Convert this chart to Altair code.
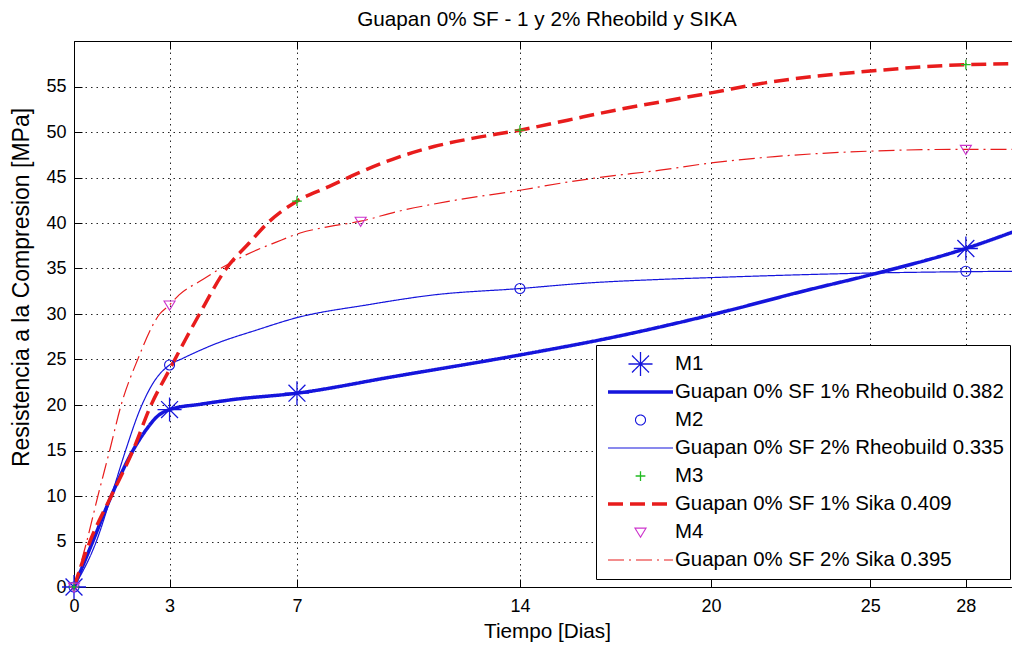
import altair as alt
import pandas as pd

TITLE = "Guapan 0% SF - 1 y 2% Rheobild y SIKA"
X_TITLE = "Tiempo [Dias]"
Y_TITLE = "Resistencia a la Compresion [MPa]"
X_TICKS = [0, 3, 7, 14, 20, 25, 28]
Y_TICKS = [0, 5, 10, 15, 20, 25, 30, 35, 40, 45, 50, 55]

ENTRIES = [
    "M1",
    "Guapan 0% SF 1% Rheobuild 0.382",
    "M2",
    "Guapan 0% SF 2% Rheobuild 0.335",
    "M3",
    "Guapan 0% SF 1% Sika 0.409",
    "M4",
    "Guapan 0% SF 2% Sika 0.395",
]

# measured points (markers)
M1_X = [0, 3, 7, 28]
M1_Y = [0, 19.5, 21.3, 37.2]
M2_X = [0, 3, 14, 28]
M2_Y = [0, 24.4, 32.8, 34.7]
M3_X = [0, 7, 14, 28]
M3_Y = [0, 42.4, 50.2, 57.4]
M4_X = [0, 3, 9, 28]
M4_Y = [0, 31.0, 40.2, 48.1]

# fitted curves
FIT1_X = [0, 0.59, 1.17, 1.85, 2.27, 2.6, 3.0, 4.0, 5.0, 7.0, 10.0, 14.0, 17.0, 20.0, 23.0, 25.0, 28.0, 29.7]
FIT1_Y = [0, 5.0, 10.0, 15.0, 17.3, 18.7, 19.5, 20.1, 20.6, 21.3, 23.1, 25.5, 27.5, 29.9, 32.6, 34.3, 37.2, 39.3]
FIT2_X = [0, 0.7, 1.17, 1.62, 2.06, 2.5, 3.0, 3.4, 4.5, 5.7, 7.0, 9.2, 11.3, 14.0, 16.1, 18.4, 20.0, 25.0, 28.0, 29.7]
FIT2_Y = [0, 5.0, 10.0, 15.0, 19.4, 22.5, 24.4, 25.1, 26.8, 28.2, 29.6, 31.0, 32.1, 32.8, 33.4, 33.8, 34.0, 34.5, 34.65, 34.7]
FIT3_X = [0, 0.5, 1.17, 1.85, 2.42, 3.0, 3.5, 3.94, 4.78, 5.5, 6.08, 7.0, 8.0, 9.0, 10.0, 11.3, 12.5, 14.0, 15.5, 17.0, 18.4, 20.0, 21.7, 25.0, 28.0, 29.7]
FIT3_Y = [0, 5.0, 10.0, 15.0, 20.0, 23.9, 27.2, 30.0, 35.0, 37.8, 40.0, 42.4, 44.0, 45.6, 47.0, 48.4, 49.3, 50.2, 51.3, 52.4, 53.3, 54.3, 55.4, 56.7, 57.4, 57.5]
FIT4_X = [0, 0.4, 0.75, 1.12, 1.48, 2.0, 2.69, 3.0, 3.3, 4.0, 4.6, 5.4, 6.35, 7.1, 8.0, 9.0, 10.2, 11.8, 14.0, 15.5, 16.5, 18.4, 20.0, 22.0, 25.0, 28.0, 29.7]
FIT4_Y = [0, 5.0, 10.0, 15.0, 20.0, 25.0, 30.0, 31.0, 32.1, 33.7, 35.0, 36.5, 37.9, 38.9, 39.6, 40.2, 41.3, 42.4, 43.6, 44.5, 45.0, 45.8, 46.6, 47.3, 47.9, 48.1, 48.1]

BLUE = "#1515dc"
RED = "#e81c1c"
GREEN = "#22bb22"
MAGENTA = "#cc33cc"

# symbol paths (unit coordinates; every symbol drawn at the same size)
ASTERISK = "M-0.37,0L0.37,0M0,-0.37L0,0.37M-0.26,-0.26L0.26,0.26M-0.26,0.26L0.26,-0.26"
CIRCLE = "M0.154,0A0.154,0.154 0 1,1 -0.154,0A0.154,0.154 0 1,1 0.154,0Z"
PLUS = "M-0.15,0L0.15,0M0,-0.15L0,0.15"
TRIDOWN = "M-0.17,-0.12L0.17,-0.12L0,0.16Z"
LINE = "M-1,0L1,0"

COLORS = [BLUE, BLUE, BLUE, BLUE, GREEN, RED, MAGENTA, RED]
SHAPES = [ASTERISK, LINE, CIRCLE, LINE, PLUS, LINE, TRIDOWN, LINE]
DASHES = [[1, 0], [1, 0], [1, 0], [1, 0], [1, 0], [15, 7], [1, 0], [16, 5, 2, 5]]
WIDTHS = [1.3, 3.5, 1.1, 1.2, 1.3, 3.5, 1.1, 1.2]

fits = [(ENTRIES[1], FIT1_X, FIT1_Y), (ENTRIES[3], FIT2_X, FIT2_Y),
        (ENTRIES[5], FIT3_X, FIT3_Y), (ENTRIES[7], FIT4_X, FIT4_Y)]
marks = [(ENTRIES[0], M1_X, M1_Y), (ENTRIES[2], M2_X, M2_Y),
         (ENTRIES[4], M3_X, M3_Y), (ENTRIES[6], M4_X, M4_Y)]

lines_df = pd.DataFrame(
    [{"entry": e, "x": x, "y": y} for e, xs, ys in fits for x, y in zip(xs, ys)]
)
points_df = pd.DataFrame(
    [{"entry": e, "x": x, "y": y} for e, xs, ys in marks for x, y in zip(xs, ys)]
)

FONT = "Liberation Sans"
W, H = 946, 546

x_scale = alt.Scale(domain=[0, 29.7], nice=False, zero=False)
y_scale = alt.Scale(domain=[0, 60], nice=False, zero=False)

legend = alt.Legend(
    title=None, orient="none", legendX=522, legendY=304, direction="vertical",
    fillColor="white", strokeColor="black", padding=6,
    labelFont=FONT, labelFontSize=20.4, labelColor="black", labelLimit=500,
    symbolSize=4225, clipHeight=26, rowPadding=2.0, symbolOffset=4, labelOffset=0,
)

color = alt.Color("entry:N", sort=ENTRIES, legend=legend,
                  scale=alt.Scale(domain=ENTRIES, range=COLORS))
swidth = alt.StrokeWidth("entry:N", sort=ENTRIES, legend=legend,
                         scale=alt.Scale(type="ordinal", domain=ENTRIES, range=WIDTHS))

x_main = alt.Axis(values=X_TICKS, title=X_TITLE, orient="bottom", offset=-8, tickSize=8,
                  labelPadding=10, domain=False, grid=True, labelFlush=False,
                  labelOverlap=False, titlePadding=6)
y_main = alt.Axis(values=Y_TICKS, title=Y_TITLE, orient="left", offset=-8, tickSize=8,
                  labelPadding=8, domain=False, grid=True, labelFlush=False,
                  labelOverlap=False, titlePadding=12, titleY=246, titleFontSize=23)
x_top = alt.Axis(values=X_TICKS, title=None, orient="top", offset=-8, tickSize=8,
                 labels=False, domain=False, grid=False)
y_right = alt.Axis(values=Y_TICKS, title=None, orient="right", offset=-8, tickSize=8,
                   labels=False, domain=False, grid=False)

lines = alt.Chart(lines_df).mark_line(interpolate="monotone", clip=True).encode(
    x=alt.X("x:Q", scale=x_scale, axis=x_main),
    y=alt.Y("y:Q", scale=y_scale, axis=y_main),
    color=color,
    strokeDash=alt.StrokeDash("entry:N", sort=ENTRIES, legend=legend,
                              scale=alt.Scale(domain=ENTRIES, range=DASHES)),
    strokeWidth=swidth,
)

points = alt.Chart(points_df).mark_point(filled=False, size=4225, opacity=1, clip=False).encode(
    x=alt.X("x:Q", scale=x_scale, axis=x_top),
    y=alt.Y("y:Q", scale=y_scale, axis=y_right),
    color=color,
    shape=alt.Shape("entry:N", sort=ENTRIES, legend=legend,
                    scale=alt.Scale(domain=ENTRIES, range=SHAPES)),
    strokeWidth=swidth,
)

chart = (
    alt.layer(lines, points)
    .resolve_axis(x="independent", y="independent")
    .properties(
        width=W, height=H,
        title=alt.TitleParams(TITLE, font=FONT, fontSize=20.7, fontWeight="normal",
                              color="black", anchor="middle", offset=10),
        autosize=alt.AutoSizeParams(type="none"),
        padding={"left": 66, "top": 33, "right": -8, "bottom": 55},
        background="white",
    )
    .configure_axis(
        labelFont=FONT, labelFontSize=18, labelColor="black",
        titleFont=FONT, titleFontSize=20.7, titleFontWeight="normal", titleColor="black",
        tickColor="black", tickWidth=1,
        gridColor="black", gridDash=[1.5, 4], gridOpacity=0.85, gridWidth=1,
    )
    .configure_view(stroke="black", strokeWidth=1)
)

chart.save("out.html", embed_options={"renderer": "svg", "actions": False})
